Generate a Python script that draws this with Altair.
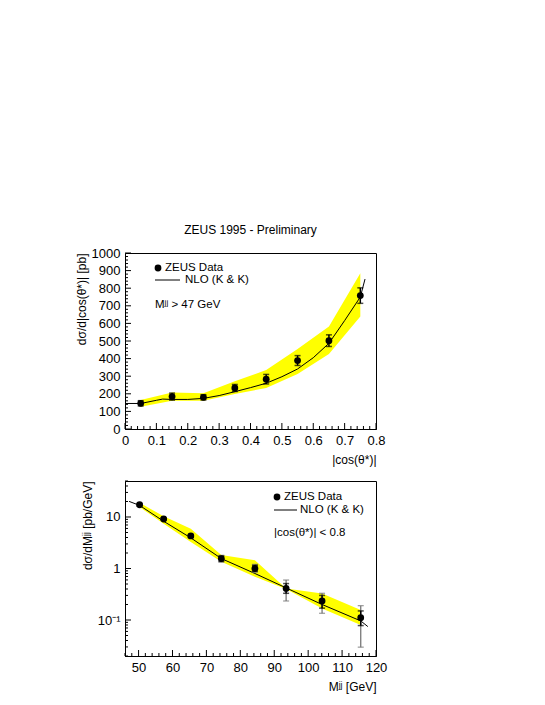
import altair as alt
import pandas as pd

FONT = "Liberation Sans"

# ---------------- top panel: d sigma / d|cos theta*| ----------------
cos_x = [0.05, 0.15, 0.25, 0.35, 0.45, 0.55, 0.65, 0.75]
cos_y = [146, 184, 180, 233, 283, 389, 502, 758]
cos_err = [15, 20, 15, 20, 27, 28, 33, 44]
cos_band_hi = [165, 208, 203, 271, 335, 455, 582, 885]
cos_band_lo = [127, 161, 161, 199, 233, 313, 426, 639]
cos_nlo_x = [0.0, 0.05, 0.1, 0.12, 0.15, 0.2, 0.25, 0.3, 0.35, 0.4, 0.45, 0.5,
             0.55, 0.6, 0.65, 0.7, 0.75, 0.765]
cos_nlo_y = [145, 145, 163, 170, 168, 168, 174, 190, 212, 235, 260, 297,
             341, 405, 487, 616, 750, 852]

top_x_major = [0, 0.1, 0.2, 0.3, 0.4, 0.5, 0.6, 0.7, 0.8]
top_x_minor = [round(i * 0.02, 2) for i in range(41) if i % 5 != 0]
top_y_major = [0, 100, 200, 300, 400, 500, 600, 700, 800, 900, 1000]
top_y_minor = [i * 20 for i in range(51) if i % 5 != 0]

# ---------------- bottom panel: d sigma / dM ----------------
m_x = [50.3, 57.4, 65.4, 74.4, 84.3, 93.5, 104.1, 115.5]
m_y = [17.3, 9.15, 4.28, 1.56, 1.0, 0.41, 0.234, 0.111]
m_stat_lo = [16.5, 8.8, 4.05, 1.38, 0.88, 0.33, 0.17, 0.078]
m_stat_hi = [18.1, 9.5, 4.5, 1.74, 1.15, 0.51, 0.30, 0.15]
m_tot_lo = [16.3, 8.6, 3.9, 1.32, 0.84, 0.234, 0.135, 0.0297]
m_tot_hi = [18.3, 9.7, 4.6, 1.8, 1.2, 0.597, 0.33, 0.19]
m_band_hi = [18.9, 10.3, 5.94, 1.82, 1.45, 0.41, 0.328, 0.156]
m_band_lo = [15.6, 7.4, 3.28, 1.35, 0.69, 0.40, 0.168, 0.080]
m_nlo_x = [47.2, 50.3, 57.4, 65.4, 74.4, 84.3, 93.5, 104.1, 115.5, 117.6]
m_nlo_y = [20.1, 16.8, 8.26, 3.93, 1.56, 0.80, 0.42, 0.20, 0.096, 0.0745]

bot_x_major = [50, 60, 70, 80, 90, 100, 110, 120]
bot_x_minor = [v for v in range(46, 121, 2) if v % 10 != 0]
bot_y_major = [0.1, 1, 10]
bot_y_minor = [0.02, 0.03, 0.04, 0.05, 0.06, 0.07, 0.08, 0.09,
               0.2, 0.3, 0.4, 0.5, 0.6, 0.7, 0.8, 0.9,
               2, 3, 4, 5, 6, 7, 8, 9, 20, 30, 40, 50]

title_text = "ZEUS 1995 - Preliminary"
legend_top = ["ZEUS Data", "NLO (K & K)", "M\u02b2\u02b2 > 47 GeV"]
legend_bot = ["ZEUS Data", "NLO (K & K)", "|cos(\u03b8*)| < 0.8"]

YELLOW = "#ffff00"
W = 251
H1 = 176
H2 = 175


def ticks(values, scale, axis, channel, h, length):
    df = pd.DataFrame({"t": values})
    base = alt.Chart(df).mark_rule(color="black", strokeWidth=1)
    if channel == "x":
        return base.encode(x=alt.X("t:Q", scale=scale, axis=axis),
                           y=alt.value(h), y2=alt.value(h - length))
    return base.encode(y=alt.Y("t:Q", scale=scale, axis=axis),
                       x=alt.value(0), x2=alt.value(length))


def legend(labels, px, h):
    pt_x, pt_y, t1x, lx1, lx2, ly, t2x, t3x, t3y = px
    one = pd.DataFrame({"k": [0]})
    pt = alt.Chart(one).mark_point(filled=True, color="black", size=46, opacity=1).encode(
        x=alt.value(pt_x), y=alt.value(pt_y))
    ln = alt.Chart(one).mark_rule(color="black", strokeWidth=1).encode(
        x=alt.value(lx1), x2=alt.value(lx2), y=alt.value(ly))
    texts = []
    for lab, tx, ty in [(labels[0], t1x, pt_y), (labels[1], t2x, ly), (labels[2], t3x, t3y)]:
        texts.append(alt.Chart(pd.DataFrame({"s": [lab]})).mark_text(
            align="left", baseline="middle", font=FONT, fontSize=11.5, color="black").encode(
            x=alt.value(tx), y=alt.value(ty), text="s:N"))
    return [pt, ln] + texts


# ---------- top ----------
xs1 = alt.Scale(domain=[0, 0.8], nice=False, zero=False)
ys1 = alt.Scale(domain=[0, 1000], nice=False, zero=False)
XA1 = alt.Axis(values=top_x_major, title="|cos(\u03b8*)|", titleAnchor="end",
               titlePadding=7, labelPadding=5, format="~g", labelFlush=False)
YA1 = alt.Axis(values=top_y_major, title="d\u03c3/d|cos(\u03b8*)| [pb]", titleAnchor="end",
               titlePadding=3, labelPadding=5, format="d")

top_pts = pd.DataFrame({"x": cos_x, "y": cos_y,
                        "lo": [a - b for a, b in zip(cos_y, cos_err)],
                        "hi": [a + b for a, b in zip(cos_y, cos_err)],
                        "bhi": cos_band_hi, "blo": cos_band_lo})
top_nlo = pd.DataFrame({"x": cos_nlo_x, "y": cos_nlo_y})

tb = alt.Chart(top_pts)
top_layers = [
    tb.mark_area(color=YELLOW, opacity=1).encode(
        x=alt.X("x:Q", scale=xs1, axis=XA1), y=alt.Y("bhi:Q", scale=ys1, axis=YA1), y2="blo:Q"),
    alt.Chart(top_nlo).mark_line(color="black", strokeWidth=1).encode(
        x=alt.X("x:Q", scale=xs1, axis=XA1), y=alt.Y("y:Q", scale=ys1, axis=YA1)),
    tb.mark_rule(color="black", strokeWidth=1.5).encode(
        x=alt.X("x:Q", scale=xs1, axis=XA1), y=alt.Y("lo:Q", scale=ys1, axis=YA1), y2="hi:Q"),
    tb.mark_tick(orient="horizontal", color="black", size=6, thickness=1.5).encode(
        x=alt.X("x:Q", scale=xs1, axis=XA1), y=alt.Y("lo:Q", scale=ys1, axis=YA1)),
    tb.mark_tick(orient="horizontal", color="black", size=6, thickness=1.5).encode(
        x=alt.X("x:Q", scale=xs1, axis=XA1), y=alt.Y("hi:Q", scale=ys1, axis=YA1)),
    tb.mark_point(filled=True, color="black", size=46, opacity=1).encode(
        x=alt.X("x:Q", scale=xs1, axis=XA1), y=alt.Y("y:Q", scale=ys1, axis=YA1)),
    ticks(top_x_major, xs1, XA1, "x", H1, 6),
    ticks(top_x_minor, xs1, XA1, "x", H1, 3),
    ticks(top_y_major, ys1, YA1, "y", H1, 6),
    ticks(top_y_minor, ys1, YA1, "y", H1, 3),
] + legend(legend_top, (33, 15, 40, 30, 55, 27, 60, 30, 52), H1)

top = alt.layer(*top_layers).properties(
    width=W, height=H1,
    title=alt.Title(title_text, font=FONT, fontSize=12, fontWeight="normal",
                    color="black", offset=10))

# ---------- bottom ----------
xs2 = alt.Scale(domain=[46, 120], nice=False, zero=False)
ys2 = alt.Scale(type="log", domain=[0.02, 50], nice=False)
XA2 = alt.Axis(values=bot_x_major, title="M\u02b2\u02b2 [GeV]", titleAnchor="end",
               titlePadding=7, labelPadding=5, labelFlush=False)
YA2 = alt.Axis(values=bot_y_major, title="d\u03c3/dM\u02b2\u02b2 [pb/GeV]", titleAnchor="end",
               titlePadding=3, labelPadding=5, labelFlush=False,
               labelExpr="datum.value < 0.5 ? '10\u207b\u00b9' : (datum.value < 5 ? '1' : '10')")

bot_pts = pd.DataFrame({"x": m_x, "y": m_y, "slo": m_stat_lo, "shi": m_stat_hi,
                        "tlo": m_tot_lo, "thi": m_tot_hi,
                        "bhi": m_band_hi, "blo": m_band_lo})
bot_nlo = pd.DataFrame({"x": m_nlo_x, "y": m_nlo_y})
bb = alt.Chart(bot_pts)


def bx():
    return alt.X("x:Q", scale=xs2, axis=XA2)


def by(f):
    return alt.Y(f, scale=ys2, axis=YA2)


bot_layers = [
    bb.mark_area(color=YELLOW, opacity=1).encode(x=bx(), y=by("bhi:Q"), y2="blo:Q"),
    alt.Chart(bot_nlo).mark_line(color="black", strokeWidth=1).encode(x=bx(), y=by("y:Q")),
    bb.mark_rule(color="#777777", strokeWidth=1.3).encode(x=bx(), y=by("tlo:Q"), y2="thi:Q"),
    bb.mark_tick(orient="horizontal", color="#777777", size=6, thickness=1.3).encode(x=bx(), y=by("tlo:Q")),
    bb.mark_tick(orient="horizontal", color="#777777", size=6, thickness=1.3).encode(x=bx(), y=by("thi:Q")),
    bb.mark_rule(color="black", strokeWidth=1.5).encode(x=bx(), y=by("slo:Q"), y2="shi:Q"),
    bb.mark_tick(orient="horizontal", color="black", size=6, thickness=1.5).encode(x=bx(), y=by("slo:Q")),
    bb.mark_tick(orient="horizontal", color="black", size=6, thickness=1.5).encode(x=bx(), y=by("shi:Q")),
    bb.mark_point(filled=True, color="black", size=46, opacity=1).encode(x=bx(), y=by("y:Q")),
    ticks(bot_x_major, xs2, XA2, "x", H2, 6),
    ticks(bot_x_minor, xs2, XA2, "x", H2, 3),
    ticks(bot_y_major, ys2, YA2, "y", H2, 6),
    ticks(bot_y_minor, ys2, YA2, "y", H2, 3),
] + legend(legend_bot, (152, 16, 159, 149, 172, 29, 175, 149, 52), H2)

bottom = alt.layer(*bot_layers).properties(width=W, height=H2)

chart = alt.vconcat(top, bottom, spacing=52, bounds="flush").properties(
    padding={"left": 66, "top": 215, "right": 5, "bottom": 5}
).configure_view(stroke="black", strokeWidth=1).configure_axis(
    domainColor="black", domainWidth=1, ticks=False, grid=False,
    labelFont=FONT, titleFont=FONT, labelFontSize=13, titleFontSize=12,
    titleFontWeight="normal", labelColor="black", titleColor="black"
)

chart.save("out.html", embed_options={"renderer": "svg", "actions": False})
